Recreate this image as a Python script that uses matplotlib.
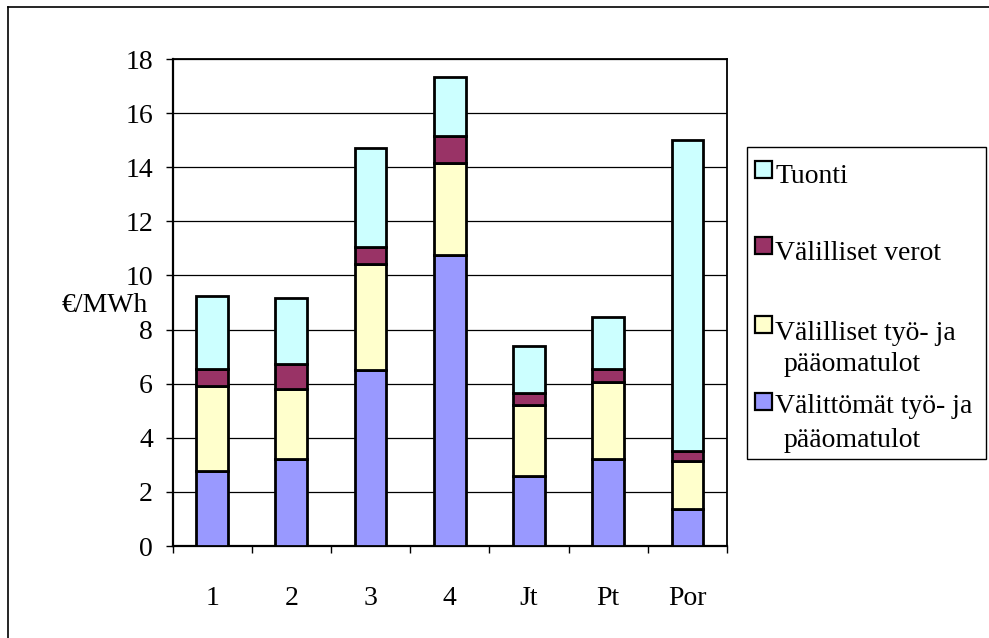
"""Stacked bars: cost components in €/MWh per case."""
import matplotlib
matplotlib.use('Agg')

import matplotlib.pyplot as plt
from matplotlib.patches import Rectangle
from matplotlib.lines import Line2D
import numpy as np

categories = ['1', '2', '3', '4', 'Jt', 'Pt', 'Por']

valittomat = [2.77, 3.20, 6.50, 10.77, 2.59, 3.20, 1.38]
valilliset_tyo = [3.14, 2.61, 3.93, 3.39, 2.62, 2.88, 1.75]
valilliset_verot = [0.62, 0.90, 0.61, 0.98, 0.45, 0.45, 0.37]
tuonti = [2.70, 2.44, 3.66, 2.18, 1.75, 1.93, 11.50]

series = [valittomat, valilliset_tyo, valilliset_verot, tuonti]
labels = [
    'Välittömät työ- ja\npääomatulot',
    'Välilliset työ- ja\npääomatulot',
    'Välilliset verot',
    'Tuonti',
]
colors = ['#9999FF', '#FFFFCC', '#993366', '#CCFFFF']

yticks = [0, 2, 4, 6, 8, 10, 12, 14, 16, 18]

W, H = 989, 638
plt.rcParams['font.family'] = ['Liberation Serif', 'DejaVu Serif']
FS = 20

fig = plt.figure(figsize=(W / 100, H / 100), dpi=100)

# outer chart frame (cut off on right and bottom)
fig.add_artist(Line2D([8 / W, 1], [1 - 7 / H, 1 - 7 / H], color='black', lw=1.2))
fig.add_artist(Line2D([8 / W, 8 / W], [0, 1 - 7 / H], color='black', lw=1.2))

left, right, top, bottom = 172.5, 727, 59, 546
ax = fig.add_axes([left / W, 1 - bottom / H, (right - left) / W, (bottom - top) / H])

x = np.arange(len(categories))
base = np.zeros(len(categories))
for vals, col, lab in zip(series, colors, labels):
    ax.bar(x, vals, bottom=base, width=0.4, color=col, edgecolor='black',
           linewidth=2.0, label=lab, zorder=3)
    base += np.array(vals)

ax.set_xlim(-0.5, len(categories) - 0.5)
ax.set_ylim(0, 18)
ax.set_yticks(yticks)
ax.set_yticklabels([str(t) for t in yticks], fontsize=FS)
ax.set_xticks(np.arange(len(categories) + 1) - 0.5)
ax.set_xticklabels([])
ax.set_xticks(x, minor=True)
ax.set_xticklabels(categories, minor=True, fontsize=FS)
ax.tick_params(axis='x', which='minor', length=0, pad=29)
ax.tick_params(axis='x', which='major', length=5, width=1, direction='out')
ax.tick_params(axis='y', length=5, width=1, direction='out', pad=9)

ax.yaxis.grid(True, color='black', lw=0.9, zorder=0)
ax.set_axisbelow(True)
for side in ['left', 'bottom']:
    ax.spines[side].set_linewidth(1.6)
for side in ['top', 'right']:
    ax.spines[side].set_linewidth(1.3)

fig.text(148 / W, 1 - 305 / H, '€/MWh', ha='right', va='center', fontsize=FS)

# legend box, drawn by hand to match the Excel layout
fig.add_artist(Rectangle((747 / W, 1 - 459 / H), (986 - 747) / W, (459 - 147) / H,
                         transform=fig.transFigure, facecolor='white',
                         edgecolor='black', lw=1.0))
sq_tops = [161, 237, 316, 393]
baselines = [[183], [260], [340, 371], [413, 447]]
order = [3, 2, 1, 0]
for k, i in enumerate(order):
    fig.add_artist(Rectangle((755 / W, 1 - (sq_tops[k] + 17) / H), 17 / W, 17 / H,
                             transform=fig.transFigure, facecolor=colors[i],
                             edgecolor='black', lw=1.6))
    for j, line in enumerate(labels[i].split('\n')):
        xt = 775 if j == 0 else 784
        fig.text(xt / W, 1 - baselines[k][j] / H, line, ha='left',
                 va='baseline', fontsize=FS)

fig.savefig('out.png', dpi=100)
plt.close(fig)
